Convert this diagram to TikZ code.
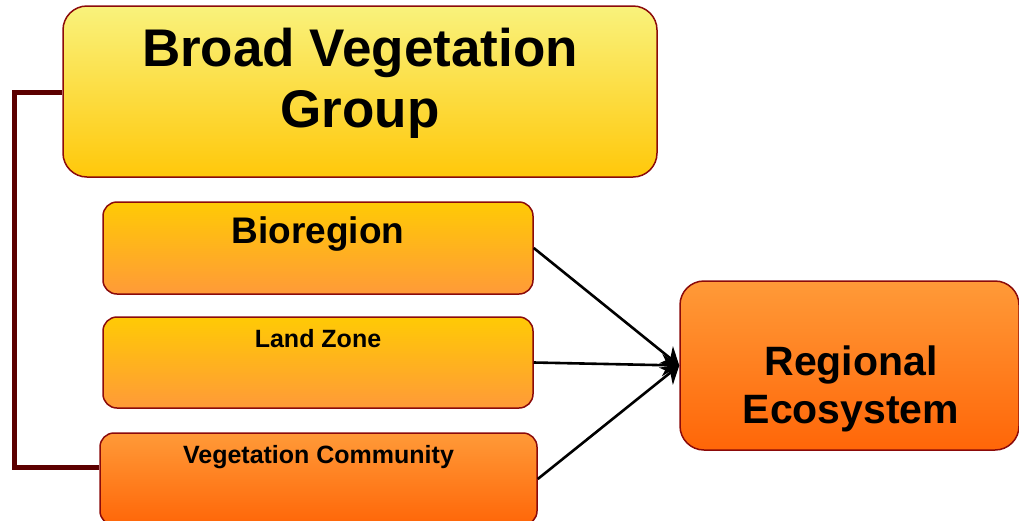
\documentclass[tikz,border=0pt]{standalone}
\usepackage{fontspec}
\setmainfont{Liberation Sans}
\usetikzlibrary{arrows.meta,calc}
\definecolor{edgered}{HTML}{8B0A0A}
\definecolor{linkred}{HTML}{5C0000}
\definecolor{ylight}{HTML}{F9F27C}
\definecolor{ydark}{HTML}{FFC80A}
\definecolor{oyel}{HTML}{FFCA05}
\definecolor{omid}{HTML}{FF9A38}
\definecolor{odark}{HTML}{FF6608}
\tikzset{
  box/.style={draw=edgered, line width=1.5pt, rounded corners=24pt, inner sep=0pt},
  ybox/.style={box, top color=ylight, bottom color=ydark},
  mbox/.style={box, top color=oyel, bottom color=omid},
  obox/.style={box, top color=omid, bottom color=odark},
  lbl/.style={font=\bfseries, text=black, align=center},
  arr/.style={line width=2.6pt, -{Stealth[length=17pt,width=22pt]}},
  link/.style={draw=linkred, line width=5pt}
}
\begin{document}
\begin{tikzpicture}[x=1pt,y=-1pt]
\useasboundingbox (0,0) rectangle (1019,520);
\node[ybox, minimum width=594pt, minimum height=171pt] (bvg) at (360,91.5) {};
\node[mbox, minimum width=430pt, minimum height=92pt, rounded corners=14pt] (bio) at (318,248) {};
\node[mbox, minimum width=430pt, minimum height=91pt, rounded corners=14pt] (land) at (318,362.5) {};
\node[obox, minimum width=437pt, minimum height=92pt, rounded corners=14pt] (veg) at (318.5,479) {};
\node[obox, minimum width=339pt, minimum height=169pt] (re) at (849.5,365.5) {};
\node[lbl, font=\fontsize{53}{61}\selectfont\bfseries] (tbvg) at (360,83) {Broad Vegetation\\Group};
\node[lbl, font=\fontsize{37}{44}\selectfont\bfseries] (tbio) at (318,234) {Bioregion};
\node[lbl, font=\fontsize{25}{30}\selectfont\bfseries] (tland) at (318,339) {Land Zone};
\node[lbl, font=\fontsize{25}{30}\selectfont\bfseries] (tveg) at (318.5,457) {Vegetation Community};
\node[lbl, font=\fontsize{41}{48}\selectfont\bfseries] (tre) at (851,389) {Regional\\Ecosystem};
\coordinate (c1) at (14,92);
\coordinate (c2) at (14,467);
\draw[link] (bvg.west |- c1) -- (c1) -- (c2) -- (veg.west |- c2);
\draw[arr] (bio.east) -- (re.west);
\draw[arr] (land.east) -- (re.west);
\draw[arr] (veg.east) -- (re.west);
\end{tikzpicture}
\end{document}
